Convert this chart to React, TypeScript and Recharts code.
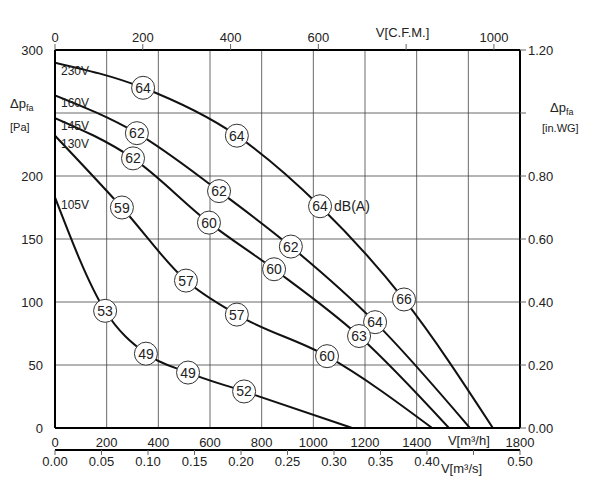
import React from 'react';
import { ComposedChart, Line, XAxis, YAxis, CartesianGrid, Label } from 'recharts';

const xTicks = [0, 200, 400, 600, 800, 1000, 1200, 1400, 1600, 1800];
const cfmTicks = [0, 200, 400, 600, 800, 1000];
const m3sTicks = [0, 0.05, 0.1, 0.15, 0.2, 0.25, 0.3, 0.35, 0.4, 0.45, 0.5];
const paTicks = [0, 50, 100, 150, 200, 250, 300];
const wgTicks = [0, 0.2, 0.4, 0.6, 0.8, 1.0, 1.2];

const s230 = [
  { x: 0, y: 290, v: '230V' }, { x: 341, y: 270, db: '64' }, { x: 704, y: 232, db: '64' },
  { x: 1026, y: 176, db: '64', unit: 'dB(A)' }, { x: 1351, y: 102, db: '66' }, { x: 1695, y: 0 },
];
const s160 = [
  { x: 0, y: 264, v: '160V' }, { x: 317, y: 234, db: '62' }, { x: 635, y: 188, db: '62' },
  { x: 913, y: 144, db: '62' }, { x: 1239, y: 84, db: '64' }, { x: 1606, y: 0 },
];
const s145 = [
  { x: 0, y: 246, v: '145V' }, { x: 302, y: 214, db: '62' }, { x: 596, y: 163, db: '60' },
  { x: 848, y: 126, db: '60' }, { x: 1177, y: 73, db: '63' }, { x: 1525, y: 0 },
];
const s130 = [
  { x: 0, y: 232, v: '130V' }, { x: 259, y: 175, db: '59' }, { x: 507, y: 117, db: '57' },
  { x: 704, y: 90, db: '57' }, { x: 1053, y: 57, db: '60' }, { x: 1460, y: 0 },
];
const s105 = [
  { x: 0, y: 183, v: '105V' }, { x: 194, y: 93, db: '53' }, { x: 352, y: 59, db: '49' },
  { x: 515, y: 44, db: '49' }, { x: 732, y: 29, db: '52' }, { x: 1150, y: 0 },
];
const series = [s230, s160, s145, s130, s105];
const topRange = [{ x: 0, y: 0 }, { x: 1059.4, y: 1.2 }];
const m3sRange = [{ x: 0, y: 0 }, { x: 0.5, y: 300 }];

const FONT = 'Liberation Sans, Arial, sans-serif';

const Dot = (p: any) => {
  const { cx, cy, payload } = p;
  if (payload.v) {
    return <text x={cx + 6} y={cy + 12} fontSize={12} fontFamily={FONT} fill="#222">{payload.v}</text>;
  }
  if (!payload.db) return <g />;
  return (
    <g>
      <circle cx={cx} cy={cy} r={11.5} fill="#fff" stroke="#333" strokeWidth={1} />
      <text x={cx} y={cy + 5} textAnchor="middle" fontSize={14} fontFamily={FONT} fill="#222">{payload.db}</text>
      {payload.unit && <text x={cx + 14} y={cy + 5} fontSize={14} fontFamily={FONT} fill="#222">{payload.unit}</text>}
    </g>
  );
};

const tickStyle = { fontSize: 13, fontFamily: FONT, fill: '#222' };
const fmt2 = (v: number) => v.toFixed(2);

export default function App() {
  return (
    <ComposedChart width={592} height={500} margin={{ top: 0, right: 0, bottom: 26, left: 0 }}>
      <CartesianGrid stroke="#444" strokeWidth={0.8} xAxisId="b" yAxisId="pa" verticalValues={xTicks} horizontalValues={paTicks} />
      <XAxis xAxisId="b" type="number" dataKey="x" domain={[0, 1800]} ticks={xTicks} height={22} allowDataOverflow
        tick={tickStyle} axisLine={{ stroke: '#000', strokeWidth: 2 }} tickLine={false} tickMargin={4}
        tickFormatter={(v: number) => (v === 1600 ? '' : String(v))}>
        <Label content={(props: any) => {
          const vb = props.viewBox;
          return <text x={vb.x + vb.width * 0.845} y={vb.y + 17} fontSize={13} fontFamily={FONT} fill="#222">V[m³/h]</text>;
        }} />
      </XAxis>
      <XAxis xAxisId="s" type="number" dataKey="x" domain={[0, 0.5]} ticks={m3sTicks} height={32} allowDataOverflow
        tick={tickStyle} axisLine={{ stroke: '#000', strokeWidth: 2 }} tickSize={5} tickFormatter={(v: number) => v === 0.45 ? '' : fmt2(v)}>
        <Label content={(props: any) => {
          const vb = props.viewBox;
          return <text x={vb.x + vb.width * 0.83} y={vb.y + 23} fontSize={13} fontFamily={FONT} fill="#222">V[m³/s]</text>;
        }} />
      </XAxis>
      <XAxis xAxisId="t" orientation="top" type="number" dataKey="x" domain={[0, 1059.4]} ticks={cfmTicks} height={42} allowDataOverflow
        tick={tickStyle} axisLine={{ stroke: '#000', strokeWidth: 2 }} tickSize={6}
        tickFormatter={(v: number) => (v === 800 ? '' : String(v))}>
        <Label content={(props: any) => {
          const vb = props.viewBox;
          return <text x={vb.x + vb.width * 0.69} y={vb.y + 29} fontSize={13} fontFamily={FONT} fill="#222">V[C.F.M.]</text>;
        }} />
      </XAxis>
      <YAxis yAxisId="pa" type="number" domain={[0, 300]} ticks={paTicks} width={47} allowDataOverflow
        tick={tickStyle} axisLine={{ stroke: '#000', strokeWidth: 2 }} tickLine={false} tickMargin={6}
        tickFormatter={(v: number) => (v === 250 ? '' : String(v))}>
        <Label content={(props: any) => {
          const vb = props.viewBox;
          return (
            <g fontFamily={FONT} fill="#222">
              <text x={vb.x + 2} y={vb.y + 58} fontSize={13}>Δp<tspan fontSize={9} dy={3}>fa</tspan></text>
              <text x={vb.x + 2} y={vb.y + 81} fontSize={11}>[Pa]</text>
            </g>
          );
        }} />
      </YAxis>
      <YAxis yAxisId="wg" orientation="right" type="number" domain={[0, 1.2]} ticks={wgTicks} width={80} allowDataOverflow
        tick={tickStyle} tickFormatter={(v: number) => (v === 1 ? '' : fmt2(v))} axisLine={{ stroke: '#000', strokeWidth: 2 }} tickSize={6}>
        <Label content={(props: any) => {
          const vb = props.viewBox;
          return (
            <g fontFamily={FONT} fill="#222">
              <text x={vb.x + 30} y={vb.y + 62} fontSize={13}>Δp<tspan fontSize={9} dy={3}>fa</tspan></text>
              <text x={vb.x + 22} y={vb.y + 82} fontSize={11}>[in.WG]</text>
            </g>
          );
        }} />
      </YAxis>
      <Line xAxisId="t" yAxisId="wg" data={topRange} dataKey="y" stroke="none" dot={false} activeDot={false} isAnimationActive={false} />
      <Line xAxisId="s" yAxisId="pa" data={m3sRange} dataKey="y" stroke="none" dot={false} activeDot={false} isAnimationActive={false} />
      {series.map((d, i) => (
        <Line key={i} xAxisId="b" yAxisId="pa" data={d} dataKey="y" type="monotone" stroke="#111"
          strokeWidth={2} dot={<Dot />} activeDot={false} isAnimationActive={false} />
      ))}
    </ComposedChart>
  );
}
